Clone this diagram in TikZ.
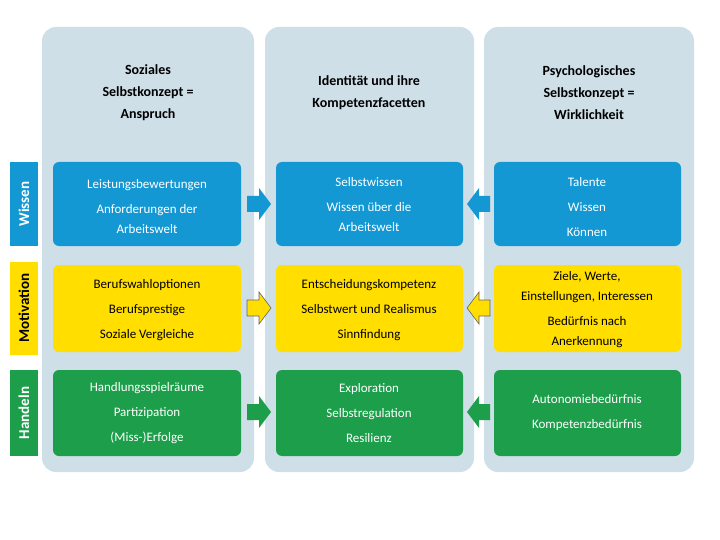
\documentclass[tikz,border=0pt]{standalone}
\usepackage{fontspec}
\setmainfont{Carlito}
\definecolor{cb}{RGB}{20,152,212}
\definecolor{cy}{RGB}{255,222,0}
\definecolor{cg}{RGB}{28,158,74}
\definecolor{cc}{RGB}{206,223,232}
\begin{document}
\begin{tikzpicture}[x=1pt,y=-1pt,
 col/.style={fill=cc,draw=none,rounded corners=14pt},
 box/.style={rounded corners=6pt,draw=none},
 txt/.style={align=center,font=\fontsize{13}{20}\selectfont},
 ttl/.style={align=center,font=\fontsize{14}{22}\selectfont\bfseries},
 side/.style={rotate=90,font=\fontsize{15}{18}\selectfont\bfseries,text=white},
 arr/.style={draw=none}]
\useasboundingbox (0,0) rectangle (720,540);
\fill[col] (42,27) rectangle (254,472);
\fill[col] (265,27) rectangle (474,472);
\fill[col] (484,27) rectangle (694,472);
\node[ttl] (t1) at (148,93) {Soziales\\Selbstkonzept =\\Anspruch};
\node[ttl] (t2) at (369,93) {Identität und ihre\\Kompetenzfacetten};
\node[ttl] (t3) at (589,93) {Psychologisches\\Selbstkonzept =\\Wirklichkeit};
% side labels
\fill[cb] (10,162) rectangle (38,246); \node[side] (sw) at (24,204) {Wissen};
\fill[cy] (10,262) rectangle (38,355); \node[side,text=black] (sm) at (24,308) {Motivation};
\fill[cg] (10,370) rectangle (38,456); \node[side] (sh) at (24,413) {Handeln};
% boxes
\foreach \x/\w in {53/241,276/463,494/681}{
 \fill[box,cb] (\x,162) rectangle (\w,246);
 \fill[box,cy] (\x,265) rectangle (\w,352);
 \fill[box,cg] (\x,370) rectangle (\w,456);}
\node[txt,text=white] (b1) at (147,207) {Leistungsbewertungen\\[5pt]Anforderungen der\\Arbeitswelt};
\node[txt,text=white] (b2) at (369,205) {Selbstwissen\\[5pt]Wissen über die\\Arbeitswelt};
\node[txt,text=white] (b3) at (587,207) {Talente\\[5pt]Wissen\\[5pt]Können};
\node[txt] (y1) at (147,310) {Berufswahloptionen\\[5pt]Berufsprestige\\[5pt]Soziale Vergleiche};
\node[txt] (y2) at (369,310) {Entscheidungskompetenz\\[5pt]Selbstwert und Realismus\\[5pt]Sinnfindung};
\node[txt] (y3) at (587,310) {Ziele, Werte,\\Einstellungen, Interessen\\[5pt]Bedürfnis nach\\Anerkennung};
\node[txt,text=white] (g1) at (147,413) {Handlungsspielräume\\[5pt]Partizipation\\[5pt](Miss-)Erfolge};
\node[txt,text=white] (g2) at (369,413) {Exploration\\[5pt]Selbstregulation\\[5pt]Resilienz};
\node[txt,text=white] (g3) at (587,413) {Autonomiebedürfnis\\[5pt]Kompetenzbedürfnis};
% arrows
\foreach \y/\c/\d in {204/cb/none,308/cy/black!60,412/cg/none}{
 \filldraw[fill=\c,draw=\d,line width=0.6pt] (247,\y-8) -- (259,\y-8) -- (259,\y-16) -- (271,\y) -- (259,\y+16) -- (259,\y+8) -- (247,\y+8) -- cycle;
 \filldraw[fill=\c,draw=\d,line width=0.6pt] (490,\y-8) -- (479,\y-8) -- (479,\y-16) -- (467,\y) -- (479,\y+16) -- (479,\y+8) -- (490,\y+8) -- cycle;}
\end{tikzpicture}
\end{document}
